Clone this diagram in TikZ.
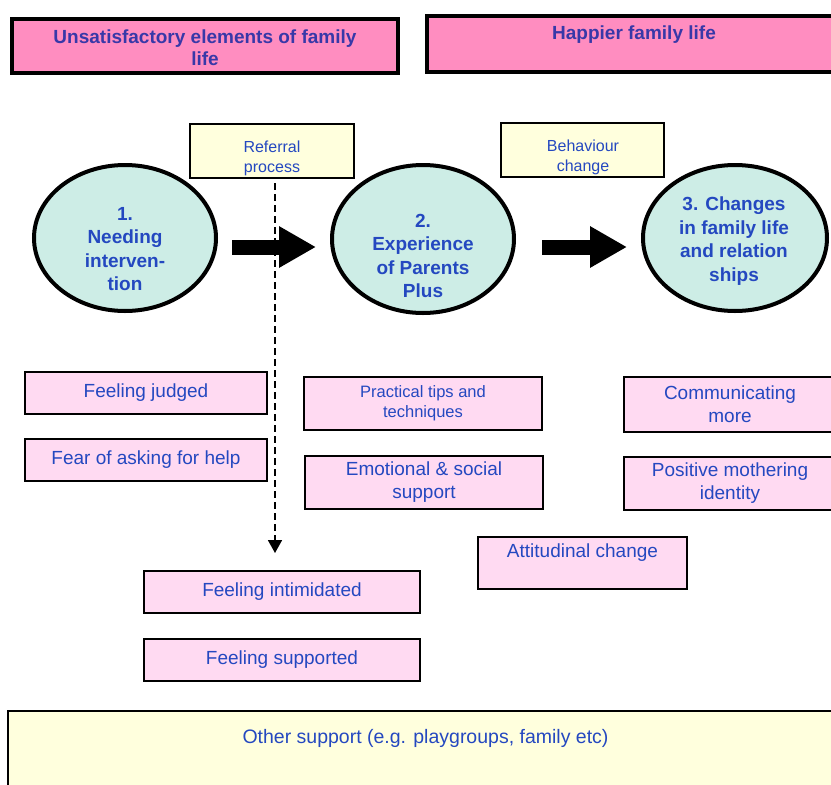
\documentclass[tikz,border=0pt]{standalone}
\usepackage{fontspec}
\setmainfont{Liberation Sans}
\usetikzlibrary{shapes.geometric,arrows.meta,calc}
\definecolor{toppink}{HTML}{FF8DC0}
\definecolor{headblue}{HTML}{3838A8}
\definecolor{pinkfill}{HTML}{FFDAF2}
\definecolor{yellowfill}{HTML}{FFFFDD}
\definecolor{circfill}{HTML}{CDEDE6}
\definecolor{bodyblue}{HTML}{2448C0}
\tikzset{
  headbox/.style={draw=black, line width=3.5pt, fill=toppink, inner sep=0pt},
  headtext/.style={text=headblue, align=center, inner sep=0pt, font=\bfseries\fontsize{19}{22}\selectfont},
  yellowbox/.style={draw=black, line width=2.5pt, fill=yellowfill, inner sep=0pt},
  smalltext/.style={text=bodyblue, align=center, inner sep=0pt, font=\fontsize{16}{20}\selectfont},
  pinkbox/.style={draw=black, line width=2.5pt, fill=pinkfill, inner sep=0pt, align=center, text=bodyblue, font=\fontsize{19}{23}\selectfont},
  pinksmall/.style={pinkbox, font=\fontsize{16.5}{20}\selectfont},
  bodytext/.style={text=bodyblue, align=center, inner sep=0pt, font=\fontsize{19}{23}\selectfont},
  stage/.style={ellipse, draw=black, line width=4pt, fill=circfill, inner sep=0pt},
  stagetext/.style={text=bodyblue, align=center, inner sep=0pt, font=\bfseries\fontsize{19}{23.5}\selectfont},
  blockarrow/.style={line width=15pt, -{Triangle[length=37pt,width=39pt]}},
  referral/.style={line width=1.8pt, dash pattern=on 7pt off 4pt, -{Triangle[length=13pt,width=14pt]}}
}
\begin{document}
\begin{tikzpicture}[x=1pt,y=-1pt]
\useasboundingbox (0,0) rectangle (831,785);
\fill[white] (0,0) rectangle (831,785);

% headings
\node[headbox, minimum width=386pt, minimum height=54pt] (h1) at (205,46) {};
\node[headtext] (h1t) at (205,48) {Unsatisfactory elements of family\\life};
\node[headbox, minimum width=414pt, minimum height=56pt] (h2) at (634,44) {};
\node[headtext] (h2t) at (634,35) {Happier family life};

% yellow process boxes
\node[yellowbox, minimum width=164pt, minimum height=54pt] (ref) at (272,151) {};
\node[smalltext] (reft) at (272,158) {Referral\\process};
\node[yellowbox, minimum width=163pt, minimum height=54pt] (beh) at (582.5,150) {};
\node[smalltext] (beht) at (583,157) {Behaviour\\change};

% dashed referral arrow
\coordinate (dend) at (275,553);
\draw[referral] ($(ref.south)+(3,4)$) -- (dend);

% stages
\node[stage, minimum width=182pt, minimum height=146pt] (c1) at (125,238) {};
\node[stagetext] (c1t) at (125,249) {1.\\Needing\\interven-\\tion};
\node[stage, minimum width=182pt, minimum height=148pt] (c2) at (423,239) {};
\node[stagetext] (c2t) at (423,256) {2.\\Experience\\of Parents\\Plus};
\node[stage, minimum width=184pt, minimum height=146pt] (c3) at (735,238) {};
\node[stagetext] (c3t) at (734,241) {3. Changes\\in family life\\and relation\\ships};

% block arrows
\draw[blockarrow] ($(c1.east)+(14,9)$) -- ($(c2.west)+(-14,8)$);
\draw[blockarrow] ($(c2.east)+(26,8)$) -- ($(c3.west)+(-14,9)$);

% pink boxes, stage 1
\node[pinkbox, minimum width=242pt, minimum height=42pt] (fj) at (146,393) {Feeling judged};
\node[pinkbox, minimum width=242pt, minimum height=42pt] (fa) at (146,460) {Fear of asking for help};
\node[pinkbox, minimum width=276pt, minimum height=42pt] (fi) at (282,592) {Feeling intimidated};
\node[pinkbox, minimum width=276pt, minimum height=42pt] (fs) at (282,660) {Feeling supported};

% pink boxes, stage 2
\node[pinksmall, minimum width=238pt, minimum height=53pt] (pt) at (423,403.5) {Practical tips and\\techniques};
\node[pinkbox, minimum width=238pt, minimum height=53pt] (es) at (424,482.5) {Emotional \& social\\support};
\node[pinkbox, minimum width=209pt, minimum height=52pt] (ac) at (582.5,563) {};
\node[bodytext] (act) at (582.5,553) {Attitudinal change};

% pink boxes, stage 3
\node[pinkbox, minimum width=212pt, minimum height=55pt] (cm) at (730,404.5) {Communicating\\more};
\node[pinkbox, minimum width=212pt, minimum height=53pt] (pm) at (730,483.5) {Positive mothering\\identity};

% other support
\node[yellowbox, minimum width=835pt, minimum height=100pt] (os) at (425.5,761) {};
\node[bodytext, font=\fontsize{19.5}{23}\selectfont] (ost) at (425.5,738) {Other support (e.g. playgroups, family etc)};
\end{tikzpicture}
\end{document}
